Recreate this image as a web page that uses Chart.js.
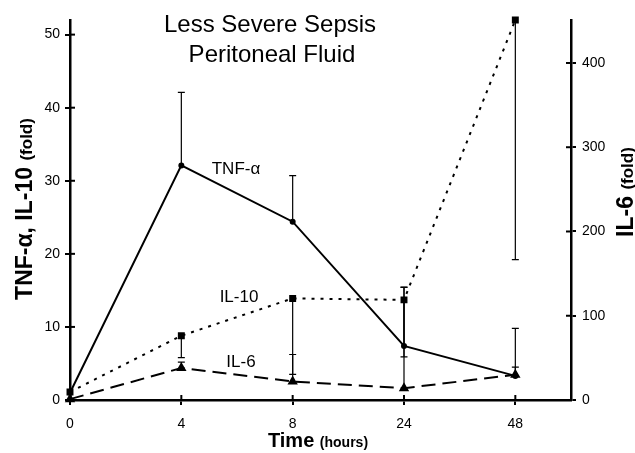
<!DOCTYPE html>
<html>
<head>
<meta charset="utf-8">
<script src="https://cdn.jsdelivr.net/npm/chart.js@4"></script>
<style>
  html, body { margin: 0; padding: 0; background: #fff; }
  #wrap { width: 635px; height: 453px; }
</style>
</head>
<body>
<div id="wrap"><canvas id="sepsisChart" width="635" height="453"></canvas></div>
<script>
// time points (hours) - plotted evenly spaced like the original figure
var times = ["0", "4", "8", "24", "48"];

var tnf = [1, 32.1, 24.4, 7.4, 3.3];
var il10 = [1.1, 8.8, 13.9, 13.7, 52];
var il6 = [1, 38, 22, 14, 30];

// end of each error bar (value units), null = no bar
var tnfErr = [null, 42.1, 30.7, 15.4, 9.8];
var il10Err = [null, 5.8, 3.5, 5.9, 19.2];
var il6Err = [null, 45, 54, 134, 39];

var leftTicks = [0, 10, 20, 30, 40, 50];
var rightTicks = [0, 100, 200, 300, 400];

function pts(arr) {
    return arr.map(function (v, i) { return { x: i, y: v }; });
}

var FONT = "'Liberation Sans', Arial, Helvetica, sans-serif";

// error bars + axis ticks inside + text labels
var extras = {
    id: "extras",
    afterDatasetsDraw: function (chart) {
        var ctx = chart.ctx;
        var x = chart.scales.x;
        ctx.save();
        ctx.strokeStyle = "#000";
        ctx.lineWidth = 1.2;
        var sets = [[tnf, tnfErr, "y"], [il10, il10Err, "y"], [il6, il6Err, "y1"]];
        sets.forEach(function (s) {
            var sc = chart.scales[s[2]];
            s[1].forEach(function (e, i) {
                if (e === null) return;
                var px = x.getPixelForValue(i);
                var y0 = sc.getPixelForValue(s[0][i]);
                var y1 = sc.getPixelForValue(e);
                ctx.beginPath();
                ctx.moveTo(px, y0);
                ctx.lineTo(px, y1);
                ctx.moveTo(px - 3.5, y1);
                ctx.lineTo(px + 3.5, y1);
                ctx.stroke();
            });
        });
        ctx.restore();
    },
    afterDraw: function (chart) {
        var ctx = chart.ctx;
        var a = chart.chartArea;
        ctx.save();
        ctx.strokeStyle = "#000";
        ctx.lineWidth = 2;
        // inner half of tick marks
        leftTicks.forEach(function (v) {
            var y = chart.scales.y.getPixelForValue(v);
            ctx.beginPath(); ctx.moveTo(a.left, y); ctx.lineTo(a.left + 5, y); ctx.stroke();
        });
        rightTicks.forEach(function (v) {
            var y = chart.scales.y1.getPixelForValue(v);
            ctx.beginPath(); ctx.moveTo(a.right - 5, y); ctx.lineTo(a.right, y); ctx.stroke();
        });
        times.forEach(function (t, i) {
            var px = chart.scales.x.getPixelForValue(i);
            ctx.beginPath(); ctx.moveTo(px, a.bottom - 5); ctx.lineTo(px, a.bottom); ctx.stroke();
        });

        ctx.fillStyle = "#000";
        ctx.textBaseline = "alphabetic";

        // title
        ctx.textAlign = "center";
        ctx.font = "24px " + FONT;
        ctx.fillText("Less Severe Sepsis", 270, 32);
        ctx.fillText("Peritoneal Fluid", 272, 62);

        // series labels
        ctx.font = "17px " + FONT;
        ctx.fillText("TNF-\u03b1", 236, 174);
        ctx.fillText("IL-10", 239, 302);
        ctx.fillText("IL-6", 241, 367);

        function mixed(parts, cx, cy) {
            var w = 0;
            parts.forEach(function (p) { ctx.font = p[1]; w += ctx.measureText(p[0]).width; });
            var sx = cx - w / 2;
            ctx.textAlign = "left";
            parts.forEach(function (p) {
                ctx.font = p[1];
                ctx.fillText(p[0], sx, cy);
                sx += ctx.measureText(p[0]).width;
            });
        }
        // x axis title
        mixed([["Time ", "bold 20px " + FONT], ["(hours)", "bold 14px " + FONT]], 318, 447);

        ctx.save();
        ctx.translate(32, 209);
        ctx.rotate(-Math.PI / 2);
        mixed([["TNF-\u03b1, IL-10 ", "bold 23px " + FONT], ["(fold)", "bold 17px " + FONT]], 0, 0);
        ctx.restore();

        ctx.save();
        ctx.translate(633, 192);
        ctx.rotate(-Math.PI / 2);
        mixed([["IL-6 ", "bold 23px " + FONT], ["(fold)", "bold 17px " + FONT]], 0, 0);
        ctx.restore();

        ctx.restore();
    }
};

new Chart("sepsisChart", {
    type: "line",
    data: {
        datasets: [
            {
                label: "TNF-\u03b1",
                data: pts(tnf),
                yAxisID: "y",
                borderColor: "#000",
                backgroundColor: "#000",
                borderWidth: 2,
                pointStyle: "circle",
                pointRadius: 2,
                clip: false
            },
            {
                label: "IL-10",
                data: pts(il10),
                yAxisID: "y",
                borderColor: "#000",
                backgroundColor: "#000",
                borderWidth: 2,
                borderDash: [3, 6],
                pointStyle: "rect",
                pointRadius: 3.5,
                clip: false
            },
            {
                label: "IL-6",
                data: pts(il6),
                yAxisID: "y1",
                borderColor: "#000",
                backgroundColor: "#000",
                borderWidth: 2,
                borderDash: [14, 7],
                pointStyle: "triangle",
                pointRadius: 4,
                clip: false
            }
        ]
    },
    options: {
        responsive: false,
        animation: false,
        devicePixelRatio: 1,
        layout: { padding: { top: 20, left: 0, right: 0, bottom: 0 } },
        plugins: {
            legend: { display: false },
            title: { display: false },
            tooltip: { enabled: false }
        },
        scales: {
            x: {
                type: "linear",
                min: 0,
                max: 4.5,
                afterBuildTicks: function (s) {
                    s.ticks = times.map(function (t, i) { return { value: i }; });
                },
                afterFit: function (s) { s.height = 53; },
                ticks: {
                    callback: function (v) { return times[v]; },
                    color: "#000",
                    font: { family: FONT, size: 14 },
                    padding: 11,
                    maxRotation: 0
                },
                grid: { drawOnChartArea: false, tickLength: 5, color: "#000", lineWidth: 2 },
                border: { color: "#000", width: 2.5 }
            },
            y: {
                position: "left",
                min: 0,
                max: 52,
                afterBuildTicks: function (s) {
                    s.ticks = leftTicks.map(function (v) { return { value: v }; });
                },
                afterFit: function (s) { s.width = 70; },
                ticks: { color: "#000", font: { family: FONT, size: 14 }, padding: 5 },
                grid: { drawOnChartArea: false, tickLength: 5, color: "#000", lineWidth: 2 },
                border: { color: "#000", width: 2.5 }
            },
            y1: {
                position: "right",
                min: 0,
                max: 451,
                afterBuildTicks: function (s) {
                    s.ticks = rightTicks.map(function (v) { return { value: v }; });
                },
                afterFit: function (s) { s.width = 64; },
                ticks: { color: "#000", font: { family: FONT, size: 14 }, padding: 6 },
                grid: { drawOnChartArea: false, tickLength: 5, color: "#000", lineWidth: 2 },
                border: { color: "#000", width: 2.5 }
            }
        }
    },
    plugins: [extras]
});
</script>
</body>
</html>
